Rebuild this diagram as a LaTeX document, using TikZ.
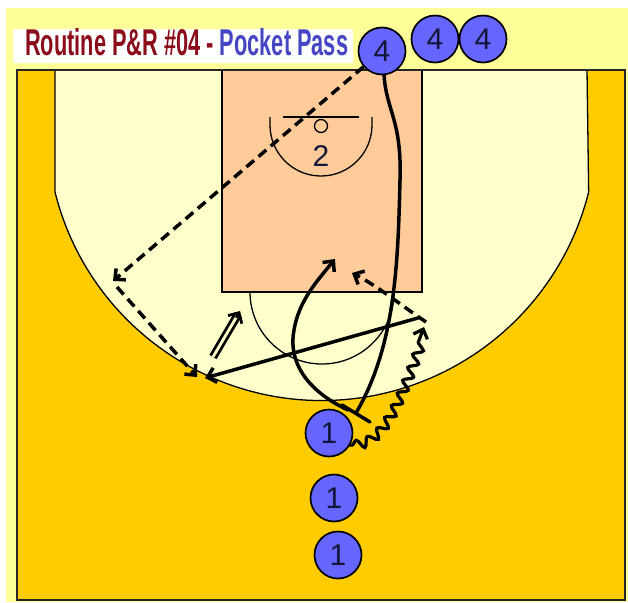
\documentclass[tikz,border=0pt]{standalone}
\usepackage{fontspec}
\setmainfont{Liberation Sans}
\usetikzlibrary{arrows.meta,decorations.pathmorphing,calc}
\definecolor{bgyel}{HTML}{FFFF99}
\definecolor{cream}{HTML}{FFFFCC}
\definecolor{courto}{HTML}{FFCC00}
\definecolor{keyc}{HTML}{FFCC99}
\definecolor{plblue}{HTML}{6666FF}
\definecolor{titred}{HTML}{8B0D1A}
\definecolor{titblue}{HTML}{4646C4}
\definecolor{digit}{HTML}{15153A}
\begin{document}
\begin{tikzpicture}[x=1pt,y=-1pt,
  courtline/.style={line width=1.3pt, draw=black},
  player/.style={circle, draw=black, line width=1.7pt, fill=plblue, minimum size=47pt,
    inner sep=0pt, text=digit, font=\fontsize{30}{30}\selectfont},
  mv/.style={line width=3.5pt, line cap=round, -{Straight Barb[length=8pt,width=15pt]}},
  passarrow/.style={mv, line cap=butt, dash pattern=on 10pt off 6pt},
  dribble/.style={mv, line width=3.2pt, decorate, decoration={snake, amplitude=4.5pt, segment length=14pt, pre length=2pt, post length=10pt}},
  handoff/.style={line width=2.8pt, double=cream, double distance=2.8pt, shorten >=4pt},
  screenbar/.style={line width=3.5pt, line cap=round}]
% background
\useasboundingbox (0,0) rectangle (628,602);
\fill[white] (0,0) rectangle (628,602);
\fill[bgyel] (6,8) rectangle (628,602);
% court
\fill[courto] (17,70) rectangle (625,600);
\filldraw[fill=cream, courtline] (55,70) -- (55,192) arc[start angle=166, end angle=14, radius=275] -- (587,70);
\filldraw[fill=keyc, courtline] (222,70) rectangle (422,292);
\draw[courtline] (250,292) arc[start angle=180, end angle=0, radius=72];
\draw[courtline] (270,117) -- (270,125) arc[start angle=180, end angle=0, radius=51] -- (372,117);
\draw[line width=1.8pt] (283,117) -- (359,117);
\draw[courtline] (321,126) circle[radius=6.5];
\node[text=digit, font=\fontsize{30}{30}\selectfont] (two) at (321,156) {2};
\draw[line width=1.8pt, draw=black!85] (17,70) rectangle (625,600);
% title
\fill[white] (13,29) rectangle (353,63);
\node[anchor=base west, inner sep=0pt] (title) at (25,56)
  {\resizebox{323pt}{27pt}{\bfseries\textcolor{titred}{Routine P\&R \#04 -}~\textcolor{titblue}{Pocket Pass}}};
% players
\node[player] (p4a) at (382,51) {4};
\node[player] (p4b) at (435,39) {4};
\node[player] (p4c) at (483,39) {4};
\node[player] (p1a) at (329,433) {1};
\node[player] (p1b) at (334,498) {1};
\node[player] (p1c) at (338,555) {1};
% coordinates
\coordinate (w1) at (113,281);
\coordinate (w1s) at (117,287);
\coordinate (w2) at (197,377);
\coordinate (rightend) at (418,318);
\coordinate (w3) at (205,378);
\coordinate (hoA) at (213,357);
\coordinate (hoB) at (240,311);
\coordinate (scr) at (356,413);
\coordinate (scrA) at (342,405);
\coordinate (scrB) at (370,422);
\coordinate (rollS) at (348,410);
\coordinate (rollE) at (335,259);
\coordinate (drE) at (424,327);
\coordinate (pkS) at (426,322);
\coordinate (pkE) at (352,273);
% passes
\draw[passarrow] (p4a) -- (w1);
\draw[passarrow] (w1s) -- (w2);
% solid moves
\draw[mv] (rightend) -- (w3);
\draw[handoff] (hoA) -- (hoB);
\draw[line width=2.8pt, line cap=round, -{Straight Barb[length=8pt,width=16pt]}] ($(hoB)!7pt!(hoA)$) -- (hoB);
% screen path of 4
\draw[line width=3.5pt, line cap=round] (p4a.275) .. controls (386,110) and (402,120) .. (400,180)
   .. controls (398,260) and (396,345) .. (scr);
\draw[screenbar] (scrA) -- (scrB);
% roll of 4
\draw[mv] (rollS) .. controls (305,390) and (288,360) .. (294,330)
   .. controls (299,300) and (318,280) .. (rollE);
% dribble of 1
\draw[dribble] (p1a.-30) .. controls (385,445) and (402,385) .. (drE);
% pocket pass
\draw[passarrow] (pkS) .. controls (402,306) and (376,285) .. (pkE);
\end{tikzpicture}
\end{document}
